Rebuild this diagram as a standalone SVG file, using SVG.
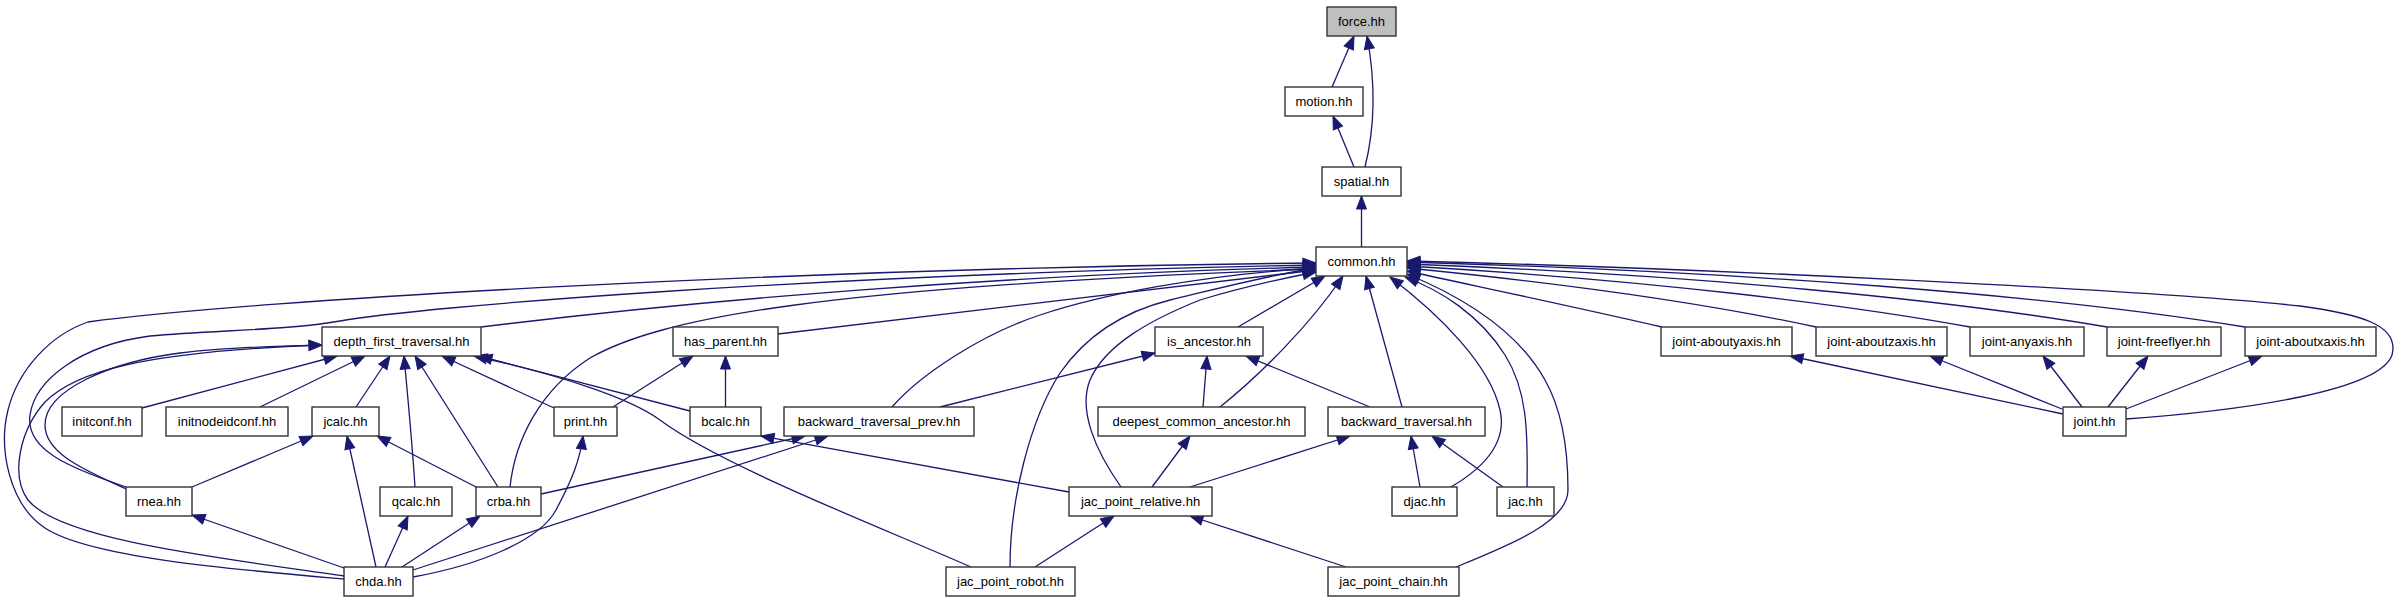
<svg xmlns="http://www.w3.org/2000/svg" width="2401" height="603" viewBox="0 0 2401 603">
<style>
.n rect{fill:#fff;stroke:#333;stroke-width:1.4}
.n text{font-family:"Liberation Sans",Arial,sans-serif;font-size:13px;fill:#000;text-anchor:middle}
#edges path{fill:none;stroke:#191970;stroke-width:1.3;marker-end:url(#ah)}
</style>
<defs>
<marker id="ah" markerWidth="14" markerHeight="11" refX="13" refY="5" orient="auto" markerUnits="userSpaceOnUse" overflow="visible">
<path d="M0,0 L13,5 L0,10 z" fill="#191970" stroke="#191970" stroke-width="1"/>
</marker>
</defs>
<rect width="2401" height="603" fill="#fff"/>
<g id="edges">
<path d="M1332,87 L1354,36"/>
<path d="M1365,167 C1373,135 1377,90 1367,36"/>
<path d="M1354,167 L1333,116"/>
<path d="M1361.5,247 L1361.5,196"/>
<path d="M344,579 C240,570 90,558 45,528 C10,505 -2,450 8,410 C18,370 50,335 88,322 C250,300 800,268 1316,263"/>
<path d="M126,487 C70,468 25,450 30,415 C35,380 80,345 150,336 C220,330 290,330 340,321 C420,307 800,275 1316,265"/>
<path d="M481,327 C700,300 1000,275 1316,267"/>
<path d="M778,334 L1316,270"/>
<path d="M510,487 C515,440 540,390 590,358 C660,318 820,287 1316,269"/>
<path d="M892,407 C920,375 980,335 1040,315 C1100,295 1200,275 1316,268"/>
<path d="M1010,567 C1010,500 1030,420 1060,373 C1090,330 1130,310 1170,300 C1220,288 1270,275 1316,268"/>
<path d="M1121,487 C1095,450 1078,410 1090,380 C1105,345 1150,320 1200,300 C1250,285 1290,277 1316,272"/>
<path d="M1238,327 L1325,276"/>
<path d="M1220,407 C1260,375 1310,325 1343,276"/>
<path d="M1402,407 L1366,276"/>
<path d="M1451,487 C1480,470 1508,445 1500,410 C1490,365 1440,315 1390,277"/>
<path d="M1527,487 C1528,430 1527,390 1505,355 C1480,315 1440,290 1405,277"/>
<path d="M1456,567 C1510,545 1568,522 1568,490 C1568,450 1562,410 1545,380 C1520,335 1470,300 1407,274"/>
<path d="M1662,327 C1580,308 1480,287 1407,271"/>
<path d="M1816,327 C1700,302 1550,282 1407,268"/>
<path d="M1970,327 C1850,305 1650,280 1407,266"/>
<path d="M2107,327 C1950,300 1700,275 1407,264"/>
<path d="M2245,327 C2050,295 1750,272 1407,262"/>
<path d="M2126,419 C2250,410 2380,390 2392,355 C2400,325 2360,314 2300,306 C2150,290 1700,268 1407,261"/>
<path d="M142,408 L337,356"/>
<path d="M260,407 L365,356"/>
<path d="M356,407 L390,356"/>
<path d="M415,487 C412,440 408,400 404,356"/>
<path d="M498,487 L415,356"/>
<path d="M554,408 L442,356"/>
<path d="M690,411 L479,356"/>
<path d="M971,567 C880,527 720,465 660,420 C630,398 560,375 474,356"/>
<path d="M344,576 C220,558 60,540 28,500 C10,475 20,430 45,402 C75,372 140,352 322,345"/>
<path d="M126,489 C90,472 45,455 45,425 C45,390 110,362 180,353 C230,347 280,346 322,345"/>
<path d="M613,407 L693,356"/>
<path d="M725.5,407 L725.5,356"/>
<path d="M940,407 L1155,353"/>
<path d="M1203,407 L1207,356"/>
<path d="M1370,407 L1246,356"/>
<path d="M192,487 L313,436"/>
<path d="M376,567 L347,436"/>
<path d="M478,488 L377,436"/>
<path d="M413,577 C480,565 540,540 556,510 C572,480 580,460 583,436"/>
<path d="M1069,492 L761,436"/>
<path d="M541,494 L805,436"/>
<path d="M413,570 L828,436"/>
<path d="M1152,487 L1190,436"/>
<path d="M1190,487 L1350,436"/>
<path d="M1420,487 L1411,436"/>
<path d="M1503,487 L1432,436"/>
<path d="M2063,414 L1790,356"/>
<path d="M2062,409 L1930,356"/>
<path d="M2082,407 L2043,356"/>
<path d="M2108,407 L2148,356"/>
<path d="M2126,409 L2262,356"/>
<path d="M344,568 L192,515"/>
<path d="M385,567 L408,516"/>
<path d="M402,567 L480,516"/>
<path d="M1035,567 L1114,516"/>
<path d="M1346,567 L1190,516"/>
</g>
<g id="n-force" class="n"><rect x="1327" y="7" width="69" height="29" style="fill:#bfbfbf"/><text x="1361.5" y="26">force.hh</text></g>
<g id="n-motion" class="n"><rect x="1285" y="87" width="78" height="29"/><text x="1324" y="106">motion.hh</text></g>
<g id="n-spatial" class="n"><rect x="1322" y="167" width="79" height="29"/><text x="1361.5" y="186">spatial.hh</text></g>
<g id="n-common" class="n"><rect x="1316" y="247" width="91" height="29"/><text x="1361.5" y="266">common.hh</text></g>
<g id="n-depth_first_traversal" class="n"><rect x="322" y="327" width="159" height="29"/><text x="401.5" y="346">depth_first_traversal.hh</text></g>
<g id="n-has_parent" class="n"><rect x="673" y="327" width="105" height="29"/><text x="725.5" y="346">has_parent.hh</text></g>
<g id="n-is_ancestor" class="n"><rect x="1155" y="327" width="108" height="29"/><text x="1209" y="346">is_ancestor.hh</text></g>
<g id="n-joint-aboutyaxis" class="n"><rect x="1661" y="327" width="131" height="29"/><text x="1726.5" y="346">joint-aboutyaxis.hh</text></g>
<g id="n-joint-aboutzaxis" class="n"><rect x="1816" y="327" width="131" height="29"/><text x="1881.5" y="346">joint-aboutzaxis.hh</text></g>
<g id="n-joint-anyaxis" class="n"><rect x="1970" y="327" width="114" height="29"/><text x="2027" y="346">joint-anyaxis.hh</text></g>
<g id="n-joint-freeflyer" class="n"><rect x="2107" y="327" width="114" height="29"/><text x="2164" y="346">joint-freeflyer.hh</text></g>
<g id="n-joint-aboutxaxis" class="n"><rect x="2245" y="327" width="131" height="29"/><text x="2310.5" y="346">joint-aboutxaxis.hh</text></g>
<g id="n-initconf" class="n"><rect x="62" y="407" width="80" height="29"/><text x="102" y="426">initconf.hh</text></g>
<g id="n-initnodeidconf" class="n"><rect x="166" y="407" width="122" height="29"/><text x="227" y="426">initnodeidconf.hh</text></g>
<g id="n-jcalc" class="n"><rect x="312" y="407" width="67" height="29"/><text x="345.5" y="426">jcalc.hh</text></g>
<g id="n-print" class="n"><rect x="554" y="407" width="63" height="29"/><text x="585.5" y="426">print.hh</text></g>
<g id="n-bcalc" class="n"><rect x="690" y="407" width="71" height="29"/><text x="725.5" y="426">bcalc.hh</text></g>
<g id="n-backward_traversal_prev" class="n"><rect x="784" y="407" width="190" height="29"/><text x="879" y="426">backward_traversal_prev.hh</text></g>
<g id="n-deepest_common_ancestor" class="n"><rect x="1098" y="407" width="207" height="29"/><text x="1201.5" y="426">deepest_common_ancestor.hh</text></g>
<g id="n-backward_traversal" class="n"><rect x="1328" y="407" width="157" height="29"/><text x="1406.5" y="426">backward_traversal.hh</text></g>
<g id="n-joint" class="n"><rect x="2063" y="407" width="63" height="29"/><text x="2094.5" y="426">joint.hh</text></g>
<g id="n-rnea" class="n"><rect x="126" y="487" width="66" height="29"/><text x="159" y="506">rnea.hh</text></g>
<g id="n-qcalc" class="n"><rect x="380" y="487" width="72" height="29"/><text x="416" y="506">qcalc.hh</text></g>
<g id="n-crba" class="n"><rect x="476" y="487" width="65" height="29"/><text x="508.5" y="506">crba.hh</text></g>
<g id="n-jac_point_relative" class="n"><rect x="1069" y="487" width="143" height="29"/><text x="1140.5" y="506">jac_point_relative.hh</text></g>
<g id="n-djac" class="n"><rect x="1392" y="487" width="65" height="29"/><text x="1424.5" y="506">djac.hh</text></g>
<g id="n-jac" class="n"><rect x="1497" y="487" width="57" height="29"/><text x="1525.5" y="506">jac.hh</text></g>
<g id="n-chda" class="n"><rect x="344" y="567" width="69" height="29"/><text x="378.5" y="586">chda.hh</text></g>
<g id="n-jac_point_robot" class="n"><rect x="946" y="567" width="129" height="29"/><text x="1010.5" y="586">jac_point_robot.hh</text></g>
<g id="n-jac_point_chain" class="n"><rect x="1328" y="567" width="131" height="29"/><text x="1393.5" y="586">jac_point_chain.hh</text></g>
</svg>
